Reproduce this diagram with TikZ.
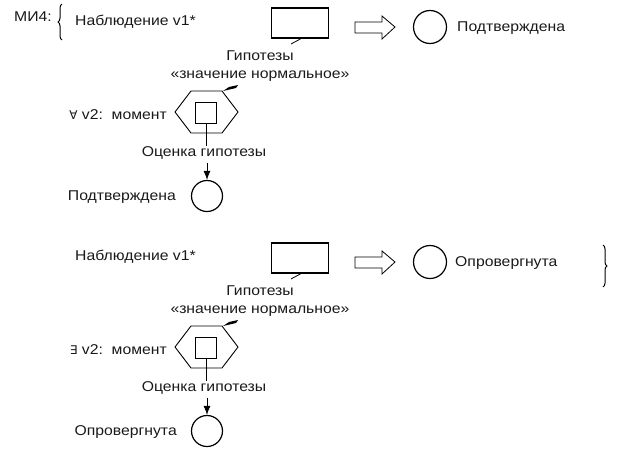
\documentclass[tikz,border=0pt]{standalone}
\usepackage{fontspec}
\setmainfont{Liberation Sans}[FakeStretch=1.11]
\newfontfamily\symfam{DejaVu Sans}
\usetikzlibrary{arrows.meta,decorations.pathreplacing}
\begin{document}
\begin{tikzpicture}[x=1pt,y=-1pt,
  txt/.style={inner sep=0pt,font=\fontsize{14.2}{16}\selectfont,text=black!90},
  rectbox/.style={draw,line width=1.2pt,minimum width=57pt,minimum height=30pt,inner sep=0pt},
  ring/.style={draw,circle,line width=1.2pt,minimum size=33pt,inner sep=0pt},
  sq/.style={draw,line width=1pt,minimum size=21pt,inner sep=0pt},
  hexa/.style={line width=0.9pt},
  hollow/.style={draw,line width=0.8pt,fill=white},
  conn/.style={line width=0.9pt},
  thin/.style={line width=0.8pt},
  curly/.style={decorate,decoration={brace,amplitude=4pt},line width=1pt}]
\useasboundingbox (0,0) rectangle (620,453);

% ---------- first group ----------
\node[txt,anchor=west] (mi) at (14,17) {МИ4:};
\coordinate (lbrT) at (62,4);
\coordinate (lbrB) at (62,40);
\draw[curly] (lbrB) -- (lbrT);
\node[txt,anchor=west] (obsA) at (75,22) {Наблюдение v1*};
\node[rectbox] (rA) at (300,23) {};
\coordinate (tA) at (291,44);
\draw[thin] (rA.south) ++(1,0) -- (tA);
\node[txt] (hA) at (260,56) {Гипотезы};
\node[txt] (hA2) at (260,76) {«значение нормальное»};
\coordinate (arA) at (355,27);
\draw[hollow] (arA) ++(0,-5) -- ++(27,0) -- ++(0,-6) -- ++(13,11) -- ++(-13,12) -- ++(0,-6) -- ++(-27,0) -- cycle;
\node[ring] (cA) at (430,27) {};
\node[txt,anchor=west] (resA) at (457,28) {Подтверждена};

\node[txt,anchor=east] (qA) at (167,115) {{\symfam\fontsize{12}{14}\selectfont ∀} v2:\ \ момент};
\coordinate (hxA) at (206,112);
\draw[hexa] (hxA) ++(-31,0) -- ++(16,-21) -- ++(31,0) -- ++(16,21) -- ++(-16,21) -- ++(-31,0) -- cycle;
\fill (hxA) ++(17,-21) -- ++(6,-4) -- ++(9,-2) -- ++(-2,3) -- cycle;
\node[sq] (sA) at (206,113) {};
\node[txt] (oA) at (204,153) {Оценка гипотезы};
\node[ring,minimum size=31pt] (dA) at (207,196) {};
\draw[conn] (sA.south) -- (sA.south |- oA.north);
\draw[conn,-{Latex[length=9pt,width=7pt]}] (dA.north |- oA.south) ++(0,3) -- (dA.north);
\node[txt,anchor=east] (eA) at (176,197) {Подтверждена};

% ---------- second group ----------
\node[txt,anchor=west] (obsB) at (75,257) {Наблюдение v1*};
\node[rectbox] (rB) at (300,258) {};
\coordinate (tB) at (291,279);
\draw[thin] (rB.south) ++(1,0) -- (tB);
\node[txt] (hB) at (260,291) {Гипотезы};
\node[txt] (hB2) at (260,311) {«значение нормальное»};
\coordinate (arB) at (355,262);
\draw[hollow] (arB) ++(0,-5) -- ++(27,0) -- ++(0,-6) -- ++(13,11) -- ++(-13,12) -- ++(0,-6) -- ++(-27,0) -- cycle;
\node[ring] (cB) at (430,262) {};
\node[txt,anchor=west] (resB) at (455,263) {Опровергнута};
\coordinate (rbrT) at (603,245);
\coordinate (rbrB) at (603,287);
\draw[curly] (rbrT) -- (rbrB);

\node[txt,anchor=east] (qB) at (167,350) {{\symfam\fontsize{12}{14}\selectfont ∃} v2:\ \ момент};
\coordinate (hxB) at (206,347);
\draw[hexa] (hxB) ++(-31,0) -- ++(16,-21) -- ++(31,0) -- ++(16,21) -- ++(-16,21) -- ++(-31,0) -- cycle;
\fill (hxB) ++(17,-21) -- ++(6,-4) -- ++(9,-2) -- ++(-2,3) -- cycle;
\node[sq] (sB) at (206,348) {};
\node[txt] (oB) at (204,388) {Оценка гипотезы};
\node[ring,minimum size=31pt] (dB) at (207,431) {};
\draw[conn] (sB.south) -- (sB.south |- oB.north);
\draw[conn,-{Latex[length=9pt,width=7pt]}] (dB.north |- oB.south) ++(0,3) -- (dB.north);
\node[txt,anchor=east] (eB) at (177,432) {Опровергнута};
\end{tikzpicture}
\end{document}
